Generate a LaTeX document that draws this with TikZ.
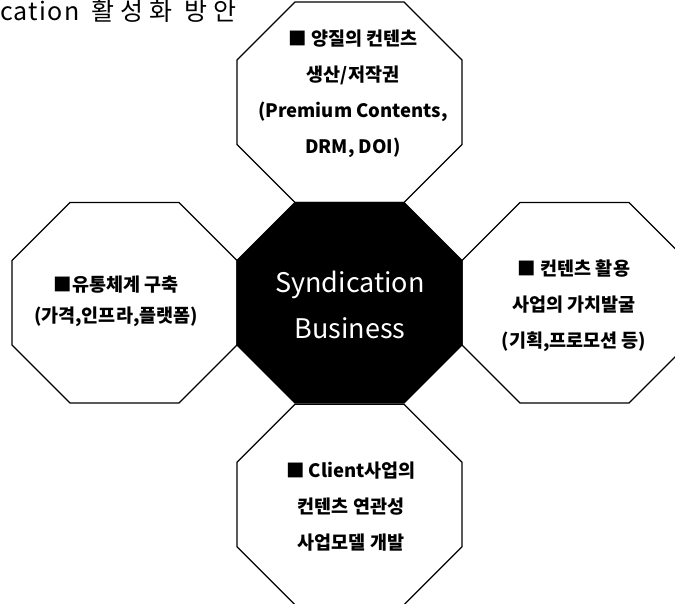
\documentclass[tikz,border=0pt]{standalone}
\usepackage{fontspec}
\setmainfont{Noto Sans CJK KR}
\newfontfamily\titlefont{Noto Sans CJK KR}[LetterSpace=5]
\usepackage{tikz}
\usetikzlibrary{positioning}
\definecolor{ink}{HTML}{000000}
\tikzset{
  octa/.pic={
    \path[pic actions]
      (-54.5,100.25) -- (54.5,100.25) -- (112.5,42.25) -- (112.5,-42.25)
      -- (54.5,-100.25) -- (-54.5,-100.25) -- (-112.5,-42.25)
      -- (-112.5,42.25) -- cycle;
  },
  octline/.style={
    draw=#1, line width=1.3pt
  },
  octline/.default=ink,
  itemtext/.style={
    font=\fontsize{18.5}{36}\selectfont\bfseries,
    align=center, text=ink, inner sep=0pt
  },
  hubtext/.style={
    font=\fontsize{27}{46}\selectfont,
    align=center, text=white, inner sep=0pt
  },
  titletext/.style={
    font=\fontsize{25}{25}\selectfont\titlefont, inner sep=0pt
  },
}

\begin{document}
\begin{tikzpicture}[x=1pt, y=1pt]
  \useasboundingbox (0,0) rectangle (675,604);
  \clip (0,0) rectangle (675,604);

  % Centres
  \coordinate (hub)   at (349.5,301.25);
  \coordinate (north) at (349.5,501.75);
  \coordinate (south) at (349.5,99.5);
  \coordinate (west)  at (124.5,301.25);
  \coordinate (east)  at (574.5,301.25);

  % Octagons
  \pic[octline, fill=white] at (north) {octa};
  \pic[octline, fill=white] at (south) {octa};
  \pic[octline, fill=white] at (west) {octa};
  \pic[octline, fill=white] at (east) {octa};
  \pic[octline, fill=ink] at (hub) {octa};

  % Title
  \node[titletext, anchor=base west] (title) at (0,583)
    {cation\hspace{5pt} 활\kern6pt 성\kern6pt 화\hspace{5pt} 방\kern6pt 안};

  % Texts
  \node[hubtext] (business) at (350,299) {Syndication\\Business};
  \node[itemtext] (quality) at (353,510)
    {■ 양질의 컨텐츠\\생산/저작권\\(Premium Contents,\\DRM, DOI)};
  \node[itemtext, font=\fontsize{18.5}{31}\selectfont\bfseries] (channel) at (116,303)
    {■유통체계 구축\\(가격,인프라,플랫폼)};
  \node[itemtext] (value) at (574,298.5)
    {■ 컨텐츠 활용\\사업의 가치발굴\\(기획,프로모션 등)};
  \node[itemtext] (client) at (351,97.5)
    {■ Client사업의\\컨텐츠 연관성\\사업모델 개발};
\end{tikzpicture}
\end{document}
